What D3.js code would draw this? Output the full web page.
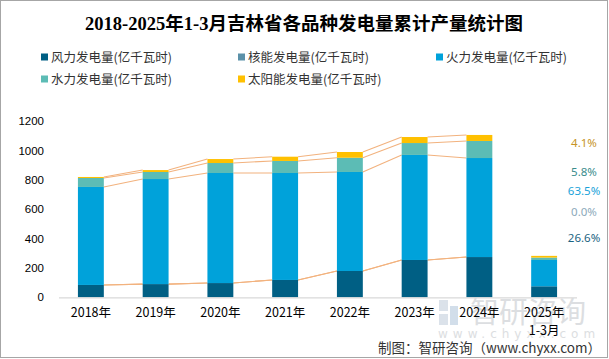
<!DOCTYPE html>
<html><head><meta charset="utf-8">
<script src="https://cdn.jsdelivr.net/npm/d3@7/dist/d3.min.js"></script>
<style>
html,body{margin:0;padding:0;background:#fff;}
svg{display:block;}
</style></head>
<body><svg id="c" width="609" height="359"></svg>
<script>
const categories = ["2018年","2019年","2020年","2021年","2022年","2023年","2024年","2025年1-3月"];
const tickLabels = [["2018年"],["2019年"],["2020年"],["2021年"],["2022年"],["2023年"],["2024年"],["2025年","1-3月"]];
const seriesNames = ["风力发电量(亿千瓦时)","核能发电量(亿千瓦时)","火力发电量(亿千瓦时)","水力发电量(亿千瓦时)","太阳能发电量(亿千瓦时)"];
const wind    = [84, 90, 97, 118, 179, 254, 274, 75];
const nuclear = [0, 0, 0, 0, 0, 0, 0, 0];
const thermal = [667, 715, 749, 728, 674, 715, 674, 179];
const hydro   = [61, 48, 68, 82, 97, 81, 116, 16.4];
const solar   = [7, 13, 27, 29, 39, 41, 41, 11.6];
const shareLabels = ["4.1%","5.8%","63.5%","0.0%","26.6%"];
const yTicks = [0,200,400,600,800,1000,1200];
const colors = ["#005F84","#5B91A9","#00A2DA","#5CBCB5","#FFC000"];
const shareColors = ["#C69326","#3A8C8C","#1AA3D9","#8DA9BA","#1C6482"];

const svg = d3.select("#c");
const font = "'Noto Sans CJK SC','Noto Sans',sans-serif";

svg.append("rect").attr("x",0.5).attr("y",0.5).attr("width",607).attr("height",357)
  .attr("fill","#fff").attr("stroke","#a6a6a6");

svg.append("text").attr("x",304).attr("y",30).attr("text-anchor","middle")
  .attr("font-family","'Liberation Serif','DejaVu Serif','Noto Sans CJK SC',serif")
  .attr("font-weight","bold").attr("font-size",18.5).attr("fill","#000")
  .text("2018-2025年1-3月吉林省各品种发电量累计产量统计图");

// legend
const legPos = [[41,57],[238,57],[436,57],[41,79],[238,79]];
seriesNames.forEach((n,i)=>{
  const g = svg.append("g").attr("transform",`translate(${legPos[i][0]},${legPos[i][1]})`);
  g.append("rect").attr("x",0).attr("y",-3.5).attr("width",7).attr("height",7).attr("fill",colors[i]);
  g.append("text").attr("x",10).attr("y",0).attr("dy","0.36em").attr("font-family",font)
    .attr("font-size",12.5).attr("fill","#333").text(n);
});

const x = d3.scaleBand().domain(categories).range([58.5,576.5]).paddingInner(0.6).paddingOuter(0.3);
const y = d3.scaleLinear().domain([0,1200]).range([297.3,121]);

const data = categories.map((c,i)=>({cat:c, wind:wind[i], nuclear:nuclear[i], thermal:thermal[i], hydro:hydro[i], solar:solar[i]}));
const keys = ["wind","nuclear","thermal","hydro","solar"];
const stacked = d3.stack().keys(keys)(data);

// watermark
const wm = svg.append("g");
wm.append("rect").attr("x",439).attr("y",300).attr("width",9).attr("height",11).attr("fill","#dbe2ea");
wm.append("rect").attr("x",439).attr("y",314).attr("width",9).attr("height",11).attr("fill","#dbe2ea");
wm.append("rect").attr("x",450).attr("y",306).attr("width",8).attr("height",19).attr("fill","#d2deea");
wm.append("text").attr("x",470).attr("y",323).attr("font-family",font).attr("font-size",29)
  .attr("fill","#dcdee1").text("智研咨询");
wm.append("text").attr("x",438).attr("y",338).attr("font-family","'DejaVu Sans',sans-serif").attr("font-size",12)
  .attr("letter-spacing",5).attr("fill","#dcdee1").text("www.chyxx.com");

// connector lines
stacked.forEach(s=>{
  for(let i=0;i<categories.length-2;i++){
    svg.append("line")
      .attr("x1",x(categories[i])+x.bandwidth()).attr("x2",x(categories[i+1]))
      .attr("y1",y(s[i][1])).attr("y2",y(s[i+1][1]))
      .attr("stroke","#F2B27E").attr("stroke-width",1.1);
  }
});

// bars
stacked.forEach((s,k)=>{
  svg.append("g").selectAll("rect").data(s).join("rect")
    .attr("x",d=>x(d.data.cat)).attr("width",x.bandwidth())
    .attr("y",d=>y(d[1])).attr("height",d=>y(d[0])-y(d[1]))
    .attr("fill",colors[k]);
});

// y axis
const ya = svg.append("g").attr("transform","translate(44,0)")
  .call(d3.axisLeft(y).tickValues(yTicks).tickSize(0).tickPadding(0).tickFormat(d3.format("d")));
ya.select(".domain").remove();
ya.selectAll("text").attr("font-family","'Liberation Sans',Arial,sans-serif").attr("font-size",11.5).attr("fill","#000");

// x axis
const xa = svg.append("g").attr("transform",`translate(0,${y(0)})`)
  .call(d3.axisBottom(x).tickSize(0).tickFormat(()=>""));
xa.select(".domain").attr("stroke","#d9d9d9").attr("stroke-width",1.2);
xa.selectAll(".tick text").remove();
xa.selectAll(".tick").each(function(d,i){
  const t = d3.select(this).append("text").attr("y",20).attr("text-anchor","middle")
    .attr("font-family",font).attr("font-size",12.5).attr("fill","#000");
  tickLabels[i].forEach((l,j)=>t.append("tspan").attr("x",0).attr("dy",j===0?0:17.5).text(l));
});

// share labels
const shareY = [143,172,191,212,238];
shareLabels.forEach((l,i)=>{
  svg.append("text").attr("x",584).attr("y",shareY[i]).attr("dy","0.36em").attr("text-anchor","middle")
    .attr("font-family","'Noto Sans',sans-serif").attr("font-size",11.5).attr("fill",shareColors[i]).text(l);
});

// source
svg.append("text").attr("x",601).attr("y",353).attr("text-anchor","end")
  .attr("font-family",font).attr("font-size",13.5).attr("fill","#333")
  .text("制图：智研咨询（www.chyxx.com）");
</script></body></html>
